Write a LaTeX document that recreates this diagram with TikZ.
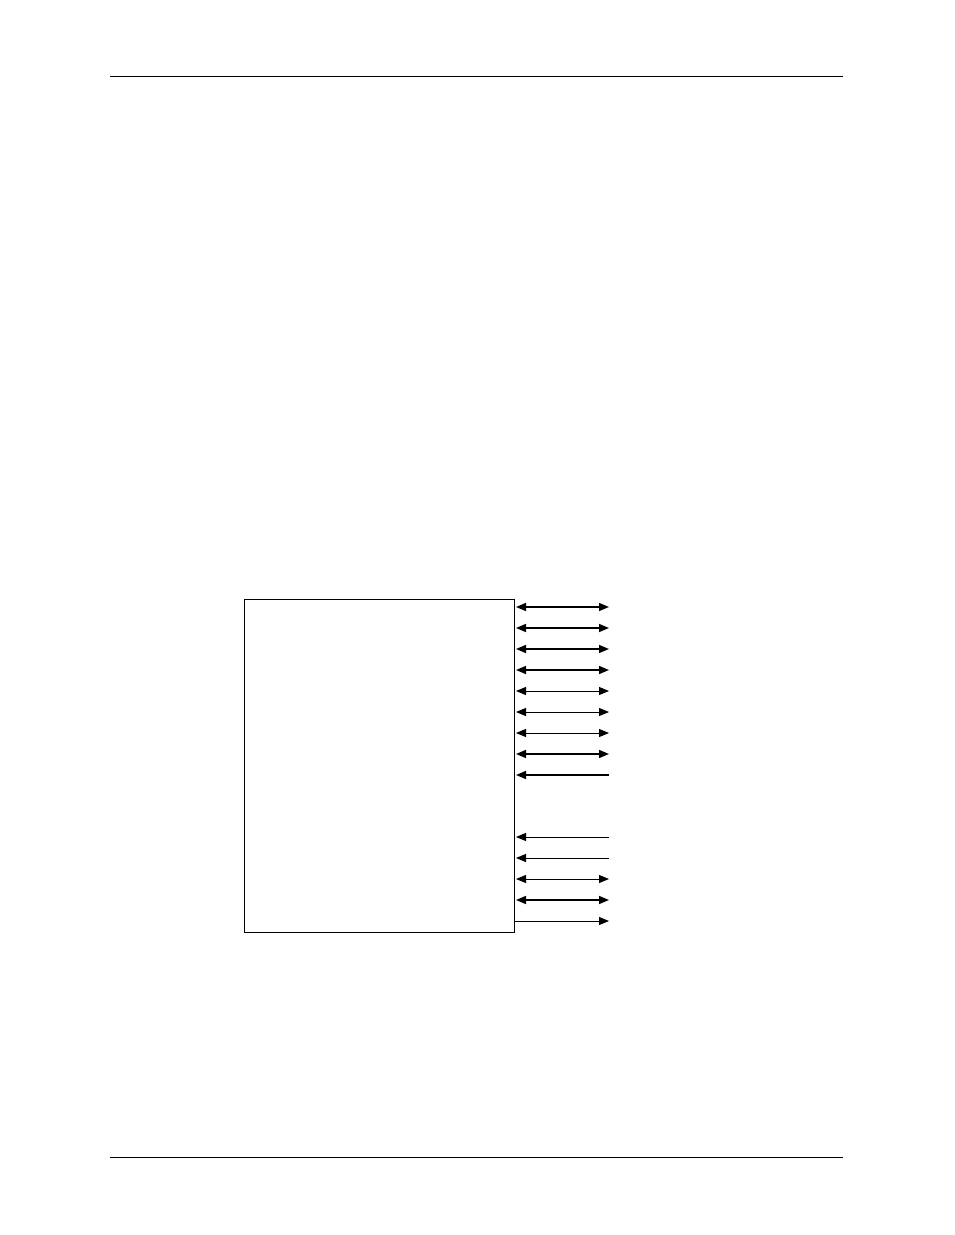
\documentclass[tikz,border=0pt]{standalone}
\usetikzlibrary{arrows.meta}
\begin{document}
\begin{tikzpicture}[x=1pt,y=-1pt,
  thick sig/.style={line width=1.6pt},
  thin sig/.style={line width=1pt},
  both/.style={{Triangle[length=10pt,width=8pt]}-{Triangle[length=10pt,width=8pt]}},
  inward/.style={{Triangle[length=10pt,width=8pt]}-},
  outward/.style={-{Triangle[length=10pt,width=8pt]}},
  rule/.style={line width=1pt}]
\useasboundingbox (0,0) rectangle (954,1235);
\coordinate (h1) at (110,76.5);
\coordinate (h2) at (843,76.5);
\coordinate (f1) at (110,1157.5);
\coordinate (f2) at (843,1157.5);
\draw[rule] (h1) -- (h2);
\draw[rule] (f1) -- (f2);
\node[draw, line width=1.4pt, minimum width=270pt, minimum height=333pt, inner sep=0pt, anchor=north west] (box) at (244,599) {};
\foreach \i/\y in {1/607,2/628,3/649,4/670,5/691,6/712,7/733,8/754,9/775,10/837,11/858,12/879,13/900,14/921}{
  \coordinate (l\i) at (516,\y);
  \coordinate (r\i) at (609,\y);
}
\coordinate (l14) at (514,921);
\draw[both,thick sig] (l1) -- (r1);
\draw[both,thick sig] (l2) -- (r2);
\draw[both,thick sig] (l3) -- (r3);
\draw[both,thick sig] (l4) -- (r4);
\draw[both,thin sig] (l5) -- (r5);
\draw[both,thin sig] (l6) -- (r6);
\draw[both,thin sig] (l7) -- (r7);
\draw[both,thick sig] (l8) -- (r8);
\draw[inward,thick sig] (l9) -- (r9);
\draw[inward,thin sig] (l10) -- (r10);
\draw[inward,thin sig] (l11) -- (r11);
\draw[both,thin sig] (l12) -- (r12);
\draw[both,thick sig] (l13) -- (r13);
\draw[outward,thin sig] (l14) -- (r14);
\end{tikzpicture}
\end{document}
